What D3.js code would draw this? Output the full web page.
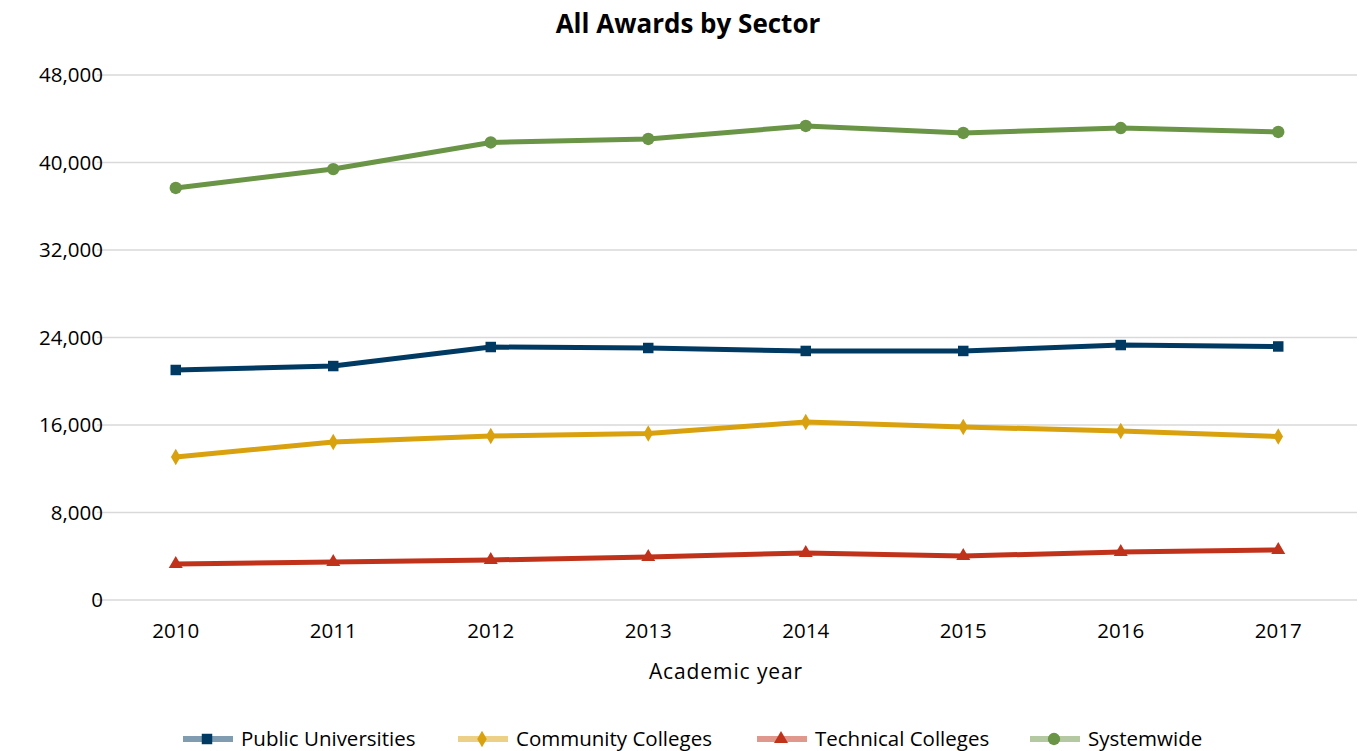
<html>
<head>
<script src="https://cdn.jsdelivr.net/npm/d3@7"></script>
<style>
  body { margin: 0; background: #fff; }
  text { font-family: "Open Sans", sans-serif; fill: #000; }
</style>
</head>
<body>
<script>
// data
var years = ["2010", "2011", "2012", "2013", "2014", "2015", "2016", "2017"];
var publicUniv = [21030, 21390, 23130, 23040, 22770, 22770, 23310, 23180];
var communityColl = [13070, 14450, 14990, 15220, 16270, 15820, 15450, 14950];
var technicalColl = [3290, 3470, 3660, 3930, 4300, 4020, 4390, 4570];
var systemwide = [37670, 39400, 41830, 42150, 43340, 42700, 43150, 42790];
var yTicks = [0, 8000, 16000, 24000, 32000, 40000, 48000];

var series = [
  {name: "Public Universities", values: publicUniv, color: "#003a63", marker: "square"},
  {name: "Community Colleges", values: communityColl, color: "#d9a10e", marker: "diamond"},
  {name: "Technical Colleges", values: technicalColl, color: "#c1321b", marker: "triangle"},
  {name: "Systemwide", values: systemwide, color: "#6a9446", marker: "circle"}
];

var W = 1360, H = 751;
var plotL = 97, plotR = 1357, plotT = 75, plotB = 600;

var svg = d3.select("body").append("svg")
  .attr("width", W).attr("height", H);

var x = d3.scaleBand().domain(years).range([plotL, plotR]);
var y = d3.scaleLinear().domain([0, 48000]).range([plotB, plotT]);

// title
svg.append("text")
  .attr("x", 688).attr("y", 33)
  .attr("text-anchor", "middle")
  .style("font-size", "26px").style("font-weight", "bold")
  .text("All Awards by Sector");

// gridlines
svg.append("g").selectAll("line").data(yTicks).enter().append("line")
  .attr("x1", plotL).attr("x2", plotR)
  .attr("y1", function(d) { return y(d); })
  .attr("y2", function(d) { return y(d); })
  .attr("stroke", "#d9d9d9").attr("stroke-width", 1.3);

// y axis labels
var fmt = d3.format(",");
svg.append("g").selectAll("text").data(yTicks).enter().append("text")
  .attr("x", 103).attr("y", function(d) { return y(d); })
  .attr("dy", "0.35em")
  .attr("text-anchor", "end")
  .style("font-size", "20.5px")
  .text(function(d) { return fmt(d); });

// x axis labels
svg.append("g").selectAll("text").data(years).enter().append("text")
  .attr("x", function(d) { return x(d) + x.bandwidth() / 2; })
  .attr("y", 638)
  .attr("text-anchor", "middle")
  .style("font-size", "20.5px")
  .text(function(d) { return d; });

svg.append("text")
  .attr("x", 726).attr("y", 679)
  .attr("text-anchor", "middle")
  .style("font-size", "21px")
  .style("letter-spacing", "0.9px")
  .text("Academic year");

var symbols = {
  square: d3.symbol().type(d3.symbolSquare).size(110),
  diamond: d3.symbol().type(d3.symbolDiamond).size(80),
  triangle: d3.symbol().type(d3.symbolTriangle).size(85),
  circle: d3.symbol().type(d3.symbolCircle).size(120)
};

var line = d3.line()
  .x(function(d, i) { return x(years[i]) + x.bandwidth() / 2; })
  .y(function(d) { return y(d); });

series.forEach(function(s) {
  svg.append("path")
    .datum(s.values)
    .attr("d", line)
    .attr("fill", "none")
    .attr("stroke", s.color)
    .attr("stroke-width", 5)
    .attr("stroke-linejoin", "round");
  svg.append("g").selectAll("path").data(s.values).enter().append("path")
    .attr("d", symbols[s.marker])
    .attr("transform", function(d, i) {
      return "translate(" + (x(years[i]) + x.bandwidth() / 2) + "," + y(d) + ")";
    })
    .attr("fill", s.color);
});

// legend
var legendX = [183, 458, 757, 1030];
var leg = svg.append("g").selectAll("g").data(series).enter().append("g")
  .attr("transform", function(d, i) { return "translate(" + legendX[i] + ",739)"; });
leg.append("line")
  .attr("x1", 0).attr("x2", 50).attr("y1", 0).attr("y2", 0)
  .attr("stroke", function(d) { return d.color; })
  .attr("stroke-opacity", 0.5)
  .attr("stroke-width", 6);
leg.append("path")
  .attr("d", function(d) { return symbols[d.marker](); })
  .attr("transform", "translate(24,0)")
  .attr("fill", function(d) { return d.color; });
leg.append("text")
  .attr("x", 58).attr("y", 0).attr("dy", "0.35em")
  .style("font-size", "20.5px")
  .text(function(d) { return d.name; });
</script>
</body>
</html>
